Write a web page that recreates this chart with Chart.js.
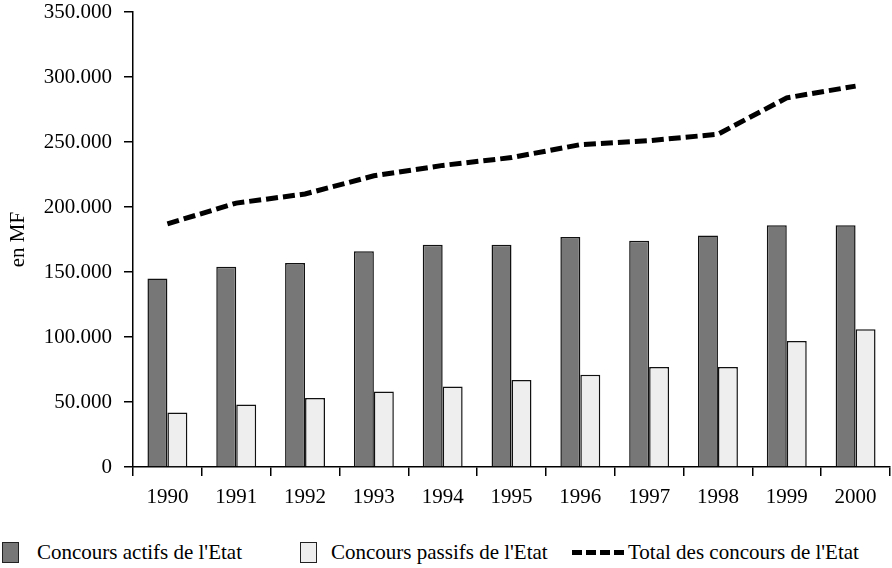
<!DOCTYPE html>
<html>
<head>
<meta charset="utf-8">
<script src="https://cdn.jsdelivr.net/npm/chart.js@4"></script>
<style>
  html, body { margin: 0; padding: 0; background: #fff; }
  body { width: 892px; height: 568px; overflow: hidden; position: relative; font-family: "Liberation Serif", "DejaVu Serif", serif; }
  #wrap { position: absolute; left: 0; top: 0; width: 892px; height: 522px; }
  .legend { position: absolute; top: 540px; left: 0; width: 892px; height: 24px; font-size: 21px; color: #000; }
  .legend .item { position: absolute; top: 0; display: flex; align-items: center; height: 24px; white-space: nowrap; }
  .legend .box { width: 17px; height: 21px; border: 1px solid #222; box-sizing: border-box; margin-right: 18px; }
  .legend .dash { width: 54px; height: 5px; margin-right: 2px;
    background: repeating-linear-gradient(90deg, #000 0 10px, transparent 10px 14px); }
</style>
</head>
<body>
<div id="wrap"><canvas id="chart"></canvas></div>
<div class="legend">
  <div class="item" style="left:2px"><span class="box" style="background:#777777"></span>Concours actifs de l'Etat</div>
  <div class="item" style="left:300px"><span class="box" style="background:#eeeeee;margin-right:14px"></span>Concours passifs de l'Etat</div>
  <div class="item" style="left:572px"><span class="dash"></span>Total des concours de l'Etat</div>
</div>
<script>
  // données (en MF)
  var years = ['1990', '1991', '1992', '1993', '1994', '1995', '1996', '1997', '1998', '1999', '2000'];
  var actifs = [145000, 154000, 157000, 166000, 171000, 171000, 177000, 174000, 178000, 186000, 186000];
  var passifs = [42000, 48000, 53000, 58000, 62000, 67000, 71000, 77000, 77000, 97000, 106000];
  var total = [187000, 203000, 210000, 224000, 232000, 238000, 248000, 251000, 256000, 284000, 293000];

  var FONT = { family: '"Liberation Serif", "DejaVu Serif", serif', size: 21 };

  function fmt(v) {
    return String(v).replace(/\B(?=(\d{3})+(?!\d))/g, '.');
  }

  new Chart(document.getElementById('chart'), {
    type: 'bar',
    data: {
      labels: years,
      datasets: [
        {
          type: 'line',
          label: "Total des concours de l'Etat",
          data: total,
          borderColor: '#000',
          borderWidth: 5,
          borderDash: [12, 5],
          borderCapStyle: 'butt',
          pointRadius: 0,
          fill: false,
          tension: 0
        },
        {
          label: "Concours actifs de l'Etat",
          data: actifs,
          backgroundColor: '#777777',
          borderColor: '#111',
          borderWidth: 1.5,
          barPercentage: 1,
          categoryPercentage: 0.58
        },
        {
          label: "Concours passifs de l'Etat",
          data: passifs,
          backgroundColor: '#eeeeee',
          borderColor: '#111',
          borderWidth: 1.5,
          barPercentage: 1,
          categoryPercentage: 0.58
        }
      ]
    },
    options: {
      responsive: true,
      maintainAspectRatio: false,
      animation: false,
      layout: { padding: { top: 12, right: 2, left: 0, bottom: 0 } },
      plugins: {
        legend: { display: false },
        tooltip: { enabled: false }
      },
      scales: {
        x: {
          grid: { display: true, drawOnChartArea: false, color: '#000', lineWidth: 1.5, tickLength: 9, offset: true },
          border: { display: true, color: '#000', width: 1.5 },
          ticks: { color: '#000', font: FONT, padding: 9, maxRotation: 0 },
          afterFit: function (s) { s.height = 55; }
        },
        y: {
          min: 0,
          max: 350000,
          ticks: { stepSize: 50000, color: '#000', font: FONT, padding: 12, callback: function (v) { return fmt(v); } },
          grid: { display: true, drawOnChartArea: false, color: '#000', lineWidth: 1.5, tickLength: 9 },
          border: { display: true, color: '#000', width: 1.5 },
          title: { display: true, text: 'en MF', color: '#000', font: FONT, padding: { top: 6, bottom: 0 } },
          afterFit: function (s) {
            s.width = 133;
            s.paddingTop = 0;
            s.paddingBottom = 0;
          }
        }
      }
    }
  });
</script>
</body>
</html>
